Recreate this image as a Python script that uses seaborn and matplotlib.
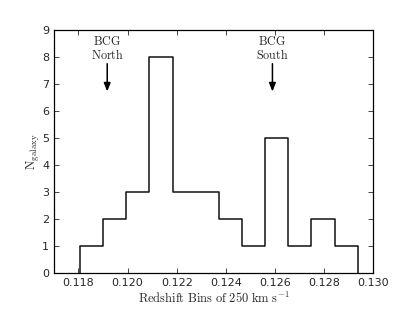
import numpy as np
import pandas as pd
import matplotlib
matplotlib.use("Agg")
import matplotlib.pyplot as plt
import seaborn as sns

sns.set_style("ticks")
plt.rcParams['font.family'] = ['DejaVu Sans']
plt.rcParams['mathtext.fontset'] = 'cm'

# Data
bin_start = 0.11806
bin_width = 0.000943
counts = [1, 2, 3, 8, 3, 3, 2, 1, 5, 1, 2, 1]
x_ticks = [0.118, 0.120, 0.122, 0.124, 0.126, 0.128, 0.130]
y_ticks = [0, 1, 2, 3, 4, 5, 6, 7, 8, 9]
bcg_labels = ["BCG\nNorth", "BCG\nSouth"]
bcg_z = [0.11917, 0.12590]

edges = [bin_start + bin_width * i for i in range(len(counts) + 1)]
centers = [(edges[i] + edges[i + 1]) / 2 for i in range(len(counts))]
df = pd.DataFrame({"z": centers, "n": counts})

fig = plt.figure(figsize=(4.15, 3.12), dpi=100)
ax = fig.add_axes([0.130, 0.125, 0.769, 0.779])

sns.histplot(data=df, x="z", weights="n", bins=edges, element="step",
             fill=False, color="#111111", linewidth=1.1, ax=ax)
# close outline down to zero at both ends
ax.vlines([edges[0], edges[-1]], 0, [counts[0], counts[-1]], color="#111111", linewidth=1.1)

ax.set_xlim(0.117, 0.130)
ax.set_ylim(0, 9)
ax.set_xticks(x_ticks)
ax.set_xticklabels([f"{t:.3f}" for t in x_ticks])
ax.set_yticks(y_ticks)
ax.tick_params(direction="in", top=True, right=True, labelsize=8, length=3.5, width=0.6, pad=3.5)
for s in ax.spines.values():
    s.set_linewidth(0.9)
    s.set_color("black")

ax.set_xlabel(r"$\mathrm{Redshift\ Bins\ of\ 250\ km\ s^{-1}}$", fontsize=9, labelpad=2)
ax.set_ylabel(r"$\mathrm{N_{galaxy}}$", fontsize=9, labelpad=0)

for lab, z in zip(bcg_labels, bcg_z):
    l1, l2 = lab.split("\n")
    ax.text(z, 8.3, r"$\mathrm{%s}$" % l1 + "\n" + r"$\mathrm{%s}$" % l2,
            ha="center", va="center", fontsize=8.7, linespacing=1.0)
    ax.annotate("", xy=(z, 6.72), xytext=(z, 7.75),
                arrowprops=dict(arrowstyle="-|>,head_width=0.2,head_length=0.5",
                                color="black", lw=1.1, shrinkA=0, shrinkB=0))

fig.savefig("out.png", dpi=100)
